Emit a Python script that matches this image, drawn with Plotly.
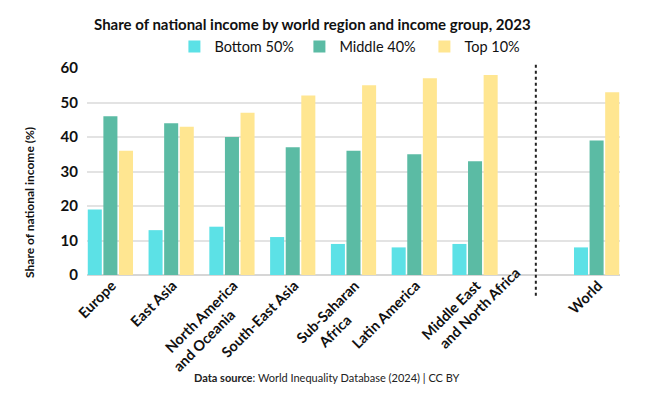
import plotly.graph_objects as go

regions = ["Europe", "East Asia", "North America|and Oceania", "South-East Asia",
           "Sub-Saharan|Africa", "Latin America", "Middle East|and North Africa", "World"]
slot_index = [0, 1, 2, 3, 4, 5, 6, 8]  # empty slot 7 separates World
bottom50 = [19, 13, 14, 11, 9, 8, 9, 8]
middle40 = [46, 44, 40, 37, 36, 35, 33, 39]
top10 = [36, 43, 47, 52, 55, 57, 58, 53]
y_ticks = [0, 10, 20, 30, 40, 50, 60]

series = [("Bottom 50%", bottom50, "#5CE1E6"),
          ("Middle 40%", middle40, "#5BBBA4"),
          ("Top 10%", top10, "#FFE691")]

# trailing non-breaking-space padding per label line (to left-align wrapped labels)
NB = "\u00a0"
BASE = 12
extra_pad = {"and Oceania": 6, "Africa": 8, "and North Africa": -10}


def label(text):
    out = []
    for line in text.split("|"):
        out.append("<b>" + line + "</b>" + NB * (BASE + extra_pad.get(line, 0)))
    return "<br>".join(out)


FONT = "Lato"
fig = go.Figure()
for name, vals, col in series:
    fig.add_trace(go.Bar(x=slot_index, y=vals, name=name,
                         marker=dict(color=col, line=dict(width=0))))

fig.update_layout(
    width=642, height=390,
    margin=dict(l=79, r=30, t=60, b=123),
    paper_bgcolor="white", plot_bgcolor="white",
    barmode="group", bargap=0.23, bargroupgap=0.1,
    font=dict(family=FONT, color="#111111"),
    title=dict(text="<b>Share of national income by world region and income group, 2023</b>",
               x=0.474, xanchor="center", y=0.956, yanchor="middle",
               font=dict(size=15, family=FONT, color="#111111")),
    legend=dict(orientation="h", x=0.164, xanchor="left", y=1.104, yanchor="middle",
                font=dict(size=14.5, family=FONT, color="#111111"), itemwidth=30,
                entrywidth=80, entrywidthmode="pixels", traceorder="normal",
                bgcolor="rgba(0,0,0,0)"),
    showlegend=True,
)
fig.update_xaxes(range=[-0.385, 8.385], tickmode="array", tickvals=slot_index,
                 ticktext=[label(r) for r in regions], tickangle=-45,
                 tickfont=dict(size=14.5, family=FONT, color="#111111"),
                 ticklabelshift=33, ticklabelstandoff=-33,
                 showgrid=False, zeroline=False, showline=False, ticks="",
                 automargin=False)
fig.update_yaxes(range=[0, 60], tickmode="array", tickvals=y_ticks,
                 ticktext=["<b>%d</b>" % v for v in y_ticks],
                 tickfont=dict(size=15, family=FONT, color="#111111"),
                 showgrid=True, gridcolor="#E3E3E3", gridwidth=1.5,
                 zeroline=True, zerolinecolor="#D6D6D6", zerolinewidth=2,
                 ticks="", ticklabelstandoff=8, automargin=False)

fig.add_shape(type="line", xref="x", yref="paper", x0=7, x1=7, y0=-0.1, y1=1.025,
              line=dict(color="#222222", width=2, dash="dot"))

fig.add_annotation(text="<b>Share of national income (%)</b>", textangle=-90,
                   xref="paper", yref="paper", x=-0.107, y=0.353,
                   xanchor="center", yanchor="middle", showarrow=False,
                   font=dict(size=12, family=FONT, color="#111111"))
fig.add_annotation(text="<b>Data source</b>: World Inequality Database (2024) | CC BY",
                   xref="paper", yref="paper", x=0.197, y=-0.493,
                   xanchor="left", yanchor="middle", showarrow=False,
                   font=dict(size=11, family=FONT, color="#222222"))

fig.write_html("out.html")
